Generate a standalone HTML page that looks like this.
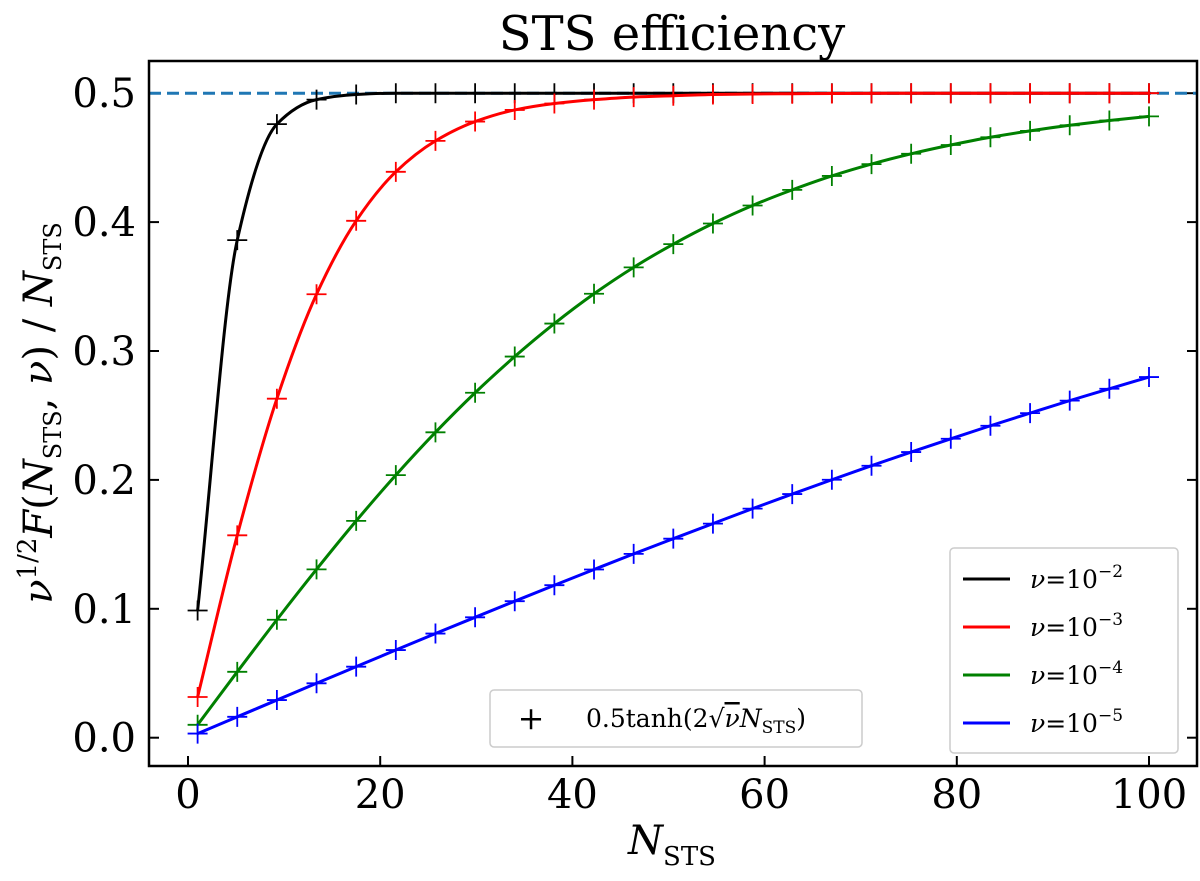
<!DOCTYPE html>
<html><head><meta charset="utf-8"><style>
body{margin:0;background:#fff}
svg text{font-family:"DejaVu Serif","Liberation Serif",serif;fill:#000}
</style></head><body>
<svg width="1200" height="876" xmlns="http://www.w3.org/2000/svg">
<text x="672" y="50" font-size="48" text-anchor="middle">STS efficiency</text>
<g id="plot"></g>
<rect x="149" y="61" width="1048" height="705" fill="none" stroke="#000" stroke-width="2.5"/>
<g transform="translate(52,413) rotate(-90)">
<text x="0" y="0" font-size="40" text-anchor="middle" font-style="italic">ν<tspan font-size="26" dy="-16" font-style="normal">1/2</tspan><tspan dy="16">F</tspan><tspan font-style="normal">(</tspan>N<tspan font-size="24" dy="9" font-style="normal">STS</tspan><tspan dy="-9" font-style="normal">, </tspan>ν<tspan font-style="normal">) / </tspan>N<tspan font-size="24" dy="9" font-style="normal">STS</tspan></text>
</g>
<text x="672" y="854" font-size="40" text-anchor="middle" font-style="italic">N<tspan font-size="26" dy="11" font-style="normal">STS</tspan></text>
<g>
<rect x="950" y="548" width="228" height="205" rx="4" fill="#fff" stroke="#ccc" stroke-width="1.5"/>
</g>
<g>
<rect x="490" y="690" width="372" height="57" rx="4" fill="#fff" stroke="#ccc" stroke-width="1.5"/>
<text x="531" y="729" font-size="32" text-anchor="middle">+</text>
<text x="586" y="727" font-size="25">0.5tanh(2√<tspan font-style="italic" text-decoration="overline">ν</tspan><tspan font-style="italic">N</tspan><tspan font-size="17" dy="6">STS</tspan><tspan dy="-6">)</tspan></text>
</g>
</svg>
<script>
const nValues=[1,5.125,9.25,13.375,17.5,21.625,25.75,29.875,34,38.125,42.25,46.375,50.5,54.625,58.75,62.875,67,71.125,75.25,79.375,83.5,87.625,91.75,95.875,100];
const seriesNu2=[0.0987,0.386,0.476,0.495,0.499,0.5,0.5,0.5,0.5,0.5,0.5,0.5,0.5,0.5,0.5,0.5,0.5,0.5,0.5,0.5,0.5,0.5,0.5,0.5,0.5];
const seriesNu3=[0.0316,0.157,0.263,0.344,0.401,0.439,0.463,0.478,0.487,0.492,0.495,0.497,0.498,0.499,0.4994,0.4996,0.4998,0.4999,0.5,0.5,0.5,0.5,0.5,0.5,0.5];
const seriesNu4=[0.01,0.0511,0.0915,0.1306,0.1682,0.2037,0.2369,0.2676,0.2957,0.3213,0.3444,0.3649,0.3829,0.3989,0.4129,0.425,0.4358,0.445,0.453,0.4598,0.4658,0.4708,0.4751,0.4788,0.482];
const seriesNu5=[0.0032,0.0162,0.0292,0.0422,0.0551,0.068,0.0808,0.0934,0.1059,0.1183,0.1305,0.1426,0.1544,0.1661,0.1777,0.189,0.2001,0.211,0.2216,0.2319,0.242,0.2518,0.2615,0.2707,0.2798];
const xTicks=[0,20,40,60,80,100];
const yTicks=[0.0,0.1,0.2,0.3,0.4,0.5];
const seriesLabels=["−2","−3","−4","−5"];
const NS="http://www.w3.org/2000/svg";
const svg=document.querySelector('svg');
const g=document.getElementById('plot');
const X=v=>188+v*9.61, Y=v=>737.7-v*1289;
function mk(t,a,p){const e=document.createElementNS(NS,t);for(const k in a)e.setAttribute(k,a[k]);(p||g).appendChild(e);return e;}
xTicks.forEach(t=>{
 const l=mk('line',{x1:X(t),x2:X(t),y1:766,y2:756,stroke:'#000','stroke-width':2});
 
 
 const tx=mk('text',{x:X(t),y:808,'font-size':40,'text-anchor':'middle'});tx.textContent=t;
 
 
});
yTicks.forEach(t=>{
 const l=mk('line',{x1:149,x2:159,y1:Y(t),y2:Y(t),stroke:'#000','stroke-width':2});
 
 
 const l2=mk('line',{x1:1187,x2:1197,y1:Y(t),y2:Y(t),stroke:'#000','stroke-width':2});
 
 
 const tx=mk('text',{x:136,y:Y(t)+14,'font-size':40,'text-anchor':'end'});tx.textContent=t.toFixed(1);
 
 
});
const ref=mk('line',{x1:149,x2:1197,y1:Y(0.5),y2:Y(0.5),stroke:'#1f77b4','stroke-width':3,'stroke-dasharray':'12,6'});


function monotone(p){
 const n=p.length,dx=[],s=[],m=[];
 for(let i=0;i<n-1;i++){dx[i]=p[i+1][0]-p[i][0];s[i]=(p[i+1][1]-p[i][1])/dx[i];}
 m[0]=s[0];m[n-1]=s[n-2];
 for(let i=1;i<n-1;i++){m[i]=(s[i-1]*s[i]<=0)?0:(3*(dx[i-1]+dx[i]))/((2*dx[i]+dx[i-1])/s[i-1]+(dx[i]+2*dx[i-1])/s[i]);}
 let d=`M${p[0][0]},${p[0][1]}`;
 for(let i=0;i<n-1;i++){const h=dx[i]/3;d+=` C${p[i][0]+h},${p[i][1]+m[i]*h} ${p[i+1][0]-h},${p[i+1][1]-m[i+1]*h} ${p[i+1][0]},${p[i+1][1]}`;}
 return d;}
const all=[[seriesNu2,'#000'],[seriesNu3,'#f00'],[seriesNu4,'#008000'],[seriesNu5,'#00f']];
all.forEach(([s,c],k)=>{
 const pts=nValues.map((n,i)=>[X(n),Y(s[i])]);
 const p=mk('path',{d:monotone(pts),fill:'none',stroke:c,'stroke-width':3});
 
 
 pts.forEach(q=>{
  const m=mk('path',{d:`M${q[0]-10},${q[1]}h20M${q[0]},${q[1]-10}v20`,stroke:c,'stroke-width':1.8});
  
  
 });
 const ly=579+k*48;
 const ll=mk('line',{x1:963,x2:1010,y1:ly,y2:ly,stroke:c,'stroke-width':3},svg);
 
 
 const lt=mk('text',{x:1030,y:ly+9,'font-size':25},svg);
 lt.innerHTML=`<tspan font-style="italic">ν</tspan>=10<tspan font-size="17" dy="-11">${seriesLabels[k]}</tspan>`;
 
 
});
</script>
</body></html>
